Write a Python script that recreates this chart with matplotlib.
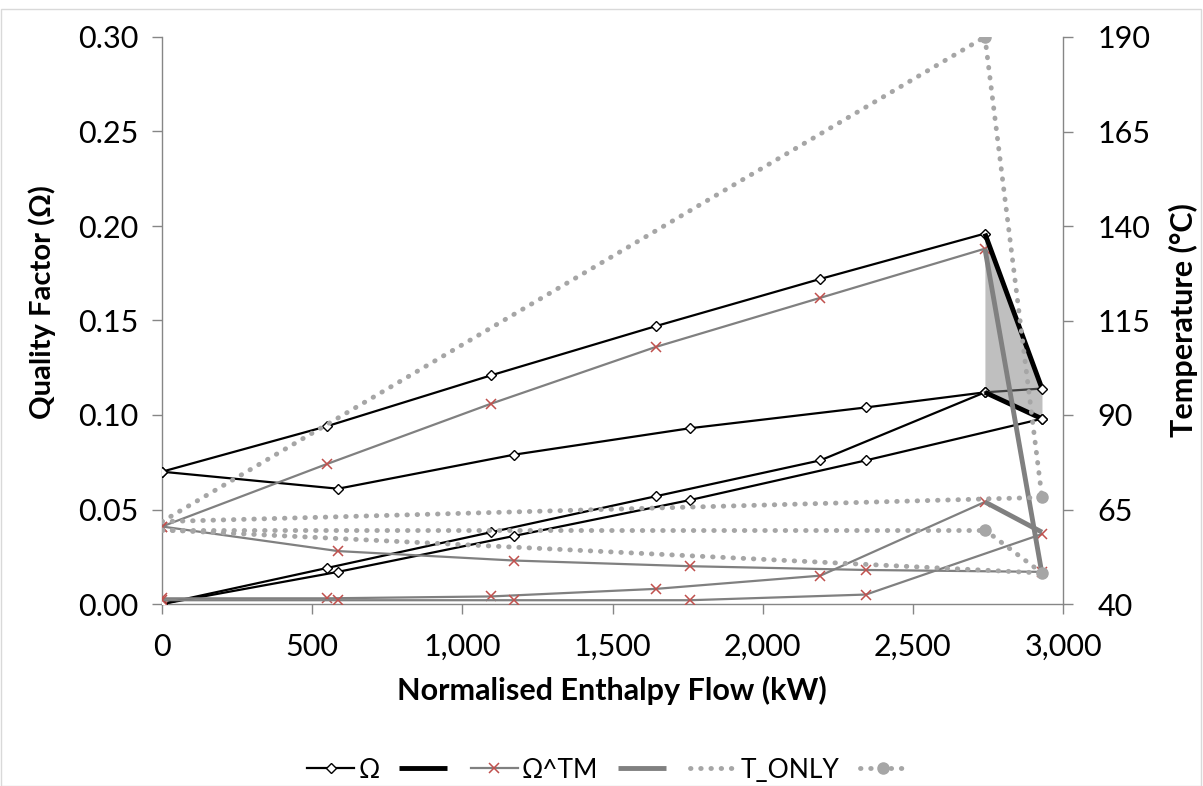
import matplotlib
matplotlib.use("Agg")
import matplotlib.pyplot as plt
from matplotlib.lines import Line2D
from matplotlib.patches import Rectangle
from matplotlib.ticker import FuncFormatter, MultipleLocator

plt.rcParams['font.family'] = ['Lato', 'DejaVu Sans']

# x positions (kW) of the composite curve points
x_a = [0, 548, 1096, 1644, 2192, 2740]
x_b = [0, 586, 1172, 1758, 2344, 2930]
x_end = [2740, 2930]

# Omega (quality factor), thin black lines with diamonds
om_a1 = [0.070, 0.094, 0.121, 0.147, 0.172, 0.196]
om_b1 = [0.070, 0.061, 0.079, 0.093, 0.104, 0.112]   # last point sits at 2740
om_a2 = [0.000, 0.019, 0.038, 0.057, 0.076, 0.112]
om_b2 = [0.000, 0.017, 0.036, 0.055, 0.076, 0.098]
om_link = [0.112, 0.114]
# thick black closing segments
om_thick_top = [0.196, 0.114]
om_thick_bot = [0.112, 0.098]

# Omega^TM, thin grey lines with red crosses
tm_a1 = [0.041, 0.074, 0.106, 0.136, 0.162, 0.188]
tm_b1 = [0.041, 0.028, 0.023, 0.020, 0.018, 0.017]
tm_a2 = [0.003, 0.003, 0.004, 0.008, 0.015, 0.054]
tm_b2 = [0.002, 0.002, 0.002, 0.002, 0.005, 0.037]
tm_thick_top = [0.188, 0.016]
tm_thick_bot = [0.054, 0.038]

# T_ONLY temperatures (right axis, degC)
t_up = [61.8, 190]            # 0 -> 2740
t_flat_hi = [61.8, 68.2]      # 0 -> 2930
t_flat_lo = [59.6, 59.6]      # 0 -> 2740
t_down = [59.6, 48.2]         # 0 -> 2930
t_end_hi = [190, 68.2]        # 2740 -> 2930
t_end_lo = [59.6, 48.2]       # 2740 -> 2930

temp_ticks = [40, 65, 90, 115, 140, 165, 190]

W, H = 1203, 786
fig = plt.figure(figsize=(W / 100, H / 100), dpi=100)
ax = fig.add_axes([162 / W, 1 - 604 / H, (1063 - 162) / W, (604 - 37) / H])
ax2 = ax.twinx()

black = '#000000'
grey = '#808080'
lgrey = '#a6a6a6'
red = '#c0504d'
dotted = (0, (0.1, 2.0))

thin_om = dict(color=black, lw=1.6, marker='D', ms=5.5, mfc='white', mec=black, mew=1.0)
thin_tm = dict(color=grey, lw=1.6, marker='x', ms=7, mec=red, mew=1.1)

# shaded gap between the hot ends
ax.fill_between(x_end, om_thick_bot, om_thick_top, color='#bfbfbf', lw=0, zorder=1)

ax.plot(x_a, om_a1, **thin_om, zorder=3)
ax.plot(x_b[:5] + [2740], om_b1, **thin_om, zorder=3)
ax.plot(x_a, om_a2, **thin_om, zorder=3)
ax.plot(x_b, om_b2, **thin_om, zorder=3)
ax.plot(x_end, om_link, color='#404040', lw=1.6, zorder=3)
ax.plot(x_end, om_thick_top, color=black, lw=3.5, solid_capstyle='butt', zorder=4)
ax.plot(x_end, om_thick_bot, color=black, lw=3.5, solid_capstyle='butt', zorder=4)
ax.plot([2930, 2930], [om_link[1], om_b2[-1]], ls='none', marker='D', ms=5.5,
        mfc='white', mec=black, mew=1.0, zorder=5)

ax.plot(x_a, tm_a1, **thin_tm, zorder=3)
ax.plot(x_b, tm_b1, **thin_tm, zorder=3)
ax.plot(x_a, tm_a2, **thin_tm, zorder=3)
ax.plot(x_b, tm_b2, **thin_tm, zorder=3)
ax.plot(x_end, tm_thick_top, color=grey, lw=3.5, solid_capstyle='butt', zorder=4)
ax.plot(x_end, tm_thick_bot, color=grey, lw=3.5, solid_capstyle='butt', zorder=4)

dot_kw = dict(color=lgrey, lw=3.5, ls=dotted, dash_capstyle='round')
ax2.plot([0, 2740], t_up, **dot_kw)
ax2.plot([0, 2930], t_flat_hi, **dot_kw)
ax2.plot([0, 2740], t_flat_lo, **dot_kw)
ax2.plot([0, 2930], t_down, **dot_kw)
ax2.plot(x_end, t_end_hi, **dot_kw, marker='o', ms=8, mfc=lgrey, mec=lgrey)
ax2.plot(x_end, t_end_lo, **dot_kw, marker='o', ms=8, mfc=lgrey, mec=lgrey)

# axes styling
ax.set_xlim(0, 3000)
ax.set_ylim(0, 0.30)
ax2.set_ylim(40, 190)
ax.xaxis.set_major_locator(MultipleLocator(500))
ax.yaxis.set_major_locator(MultipleLocator(0.05))
ax2.set_yticks(temp_ticks)
ax.xaxis.set_major_formatter(FuncFormatter(lambda v, p: f'{v:,.0f}'))
ax.yaxis.set_major_formatter(FuncFormatter(lambda v, p: f'{v:.2f}'))

spine_c = '#868686'
for a in (ax, ax2):
    a.spines['top'].set_visible(False)
    for s in a.spines.values():
        s.set_color(spine_c)
        s.set_linewidth(1.0)
ax2.spines['left'].set_visible(False)
ax2.spines['bottom'].set_visible(False)
ax.spines['right'].set_visible(False)

ax.tick_params(axis='x', direction='out', length=7, width=1, color=spine_c, labelsize=22, pad=14)
ax.tick_params(axis='y', direction='out', length=7, width=1, color=spine_c, labelsize=22, pad=10)
ax2.tick_params(axis='y', direction='out', length=7, width=1, color=spine_c, labelsize=22, pad=18)

fig.text(612 / W, 1 - 690 / H, 'Normalised Enthalpy Flow (kW)', ha='center', va='center',
         fontsize=22, fontweight='bold')
fig.text(42 / W, 1 - 302 / H, 'Quality Factor (Ω)', ha='center', va='center',
         rotation=90, fontsize=21, fontweight='bold')
fig.text(1183 / W, 1 - 320 / H, 'Temperature (°C)', ha='center', va='center',
         rotation=90, fontsize=22, fontweight='bold')

handles = [
    Line2D([], [], **thin_om),
    Line2D([], [], color=black, lw=3.5, solid_capstyle='butt'),
    Line2D([], [], **thin_tm),
    Line2D([], [], color=grey, lw=3.5, solid_capstyle='butt'),
    Line2D([], [], **dot_kw),
    Line2D([], [], **dot_kw, marker='o', ms=8, mfc=lgrey, mec=lgrey),
]
labels = ['Ω', '', 'Ω^TM', '', 'T_ONLY', '']
fig.legend(handles, labels, loc='center', bbox_to_anchor=(609 / W, 1 - 770 / H), ncol=6,
           frameon=False, fontsize=19, handlelength=1.8, handletextpad=0.15, columnspacing=0.75)

# chart area border
fig.patches.append(Rectangle((0.5 / W, 0), (W - 3) / W, 1 - 9 / H, transform=fig.transFigure,
                             fill=False, edgecolor='#d9d9d9', lw=1.0))

fig.savefig('out.png', dpi=100)
